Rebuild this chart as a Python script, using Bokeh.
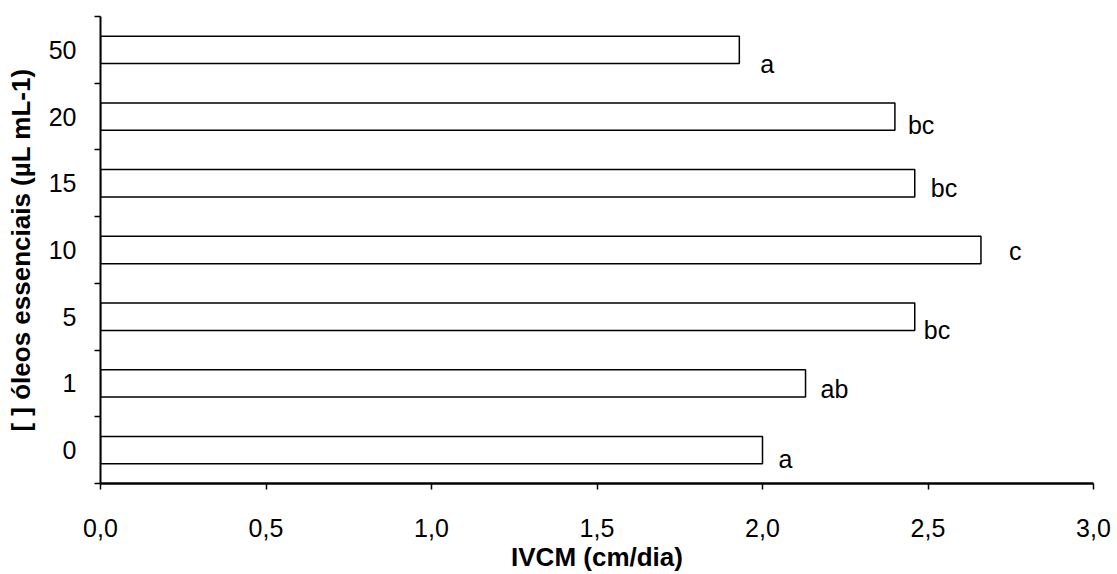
from bokeh.plotting import figure
from bokeh.models import ColumnDataSource, FixedTicker, Range1d, CustomJSTickFormatter, Title
from bokeh.core.properties import value
from bokeh.embed import file_html
from bokeh.resources import INLINE

categories = ["0", "1", "5", "10", "15", "20", "50"]
ivcm = [2.00, 2.13, 2.46, 2.66, 2.46, 2.40, 1.93]
letters = ["a", "ab", "bc", "c", "bc", "bc", "a"]
x_ticks = [0.0, 0.5, 1.0, 1.5, 2.0, 2.5, 3.0]

# pixel offsets of the letter annotations from the bar ends
letter_dx = [16, 15, 9, 28, 16, 13, 21]
letter_dy = [9, 6, 13, 1, 5, 8, 14]

FONT = "Liberation Sans"
pos = [i + 0.5 for i in range(len(categories))]

src = ColumnDataSource(dict(y=pos, right=ivcm, letter=letters, dx=letter_dx, dy=letter_dy))

p = figure(width=1117, height=574, output_backend="svg", toolbar_location=None,
           x_range=Range1d(x_ticks[0], x_ticks[-1]), y_range=Range1d(0, len(categories)),
           min_border_left=100, min_border_right=24, min_border_top=16, min_border_bottom=91)
p.background_fill_color = "white"
p.border_fill_color = "white"
p.outline_line_color = None
p.grid.visible = False

p.hbar(y="y", right="right", left=0, height=0.41, source=src,
       fill_color="white", line_color="black", line_width=1.5)
p.text(x="right", y="y", text="letter", x_offset="dx", y_offset="dy", source=src,
       text_font=value(FONT), text_font_size="25px", text_baseline="alphabetic",
       text_align="left", text_color="black")

xa = p.xaxis[0]
xa.ticker = FixedTicker(ticks=x_ticks)
xa.formatter = CustomJSTickFormatter(code="return tick.toFixed(1).replace('.', ',');")
xa.axis_line_width = 2.5
xa.axis_line_color = "black"
xa.major_tick_out = 6
xa.major_tick_in = 0
xa.major_tick_line_width = 1.5
xa.minor_tick_line_color = None
xa.major_label_standoff = 29
xa.major_label_text_font = FONT
xa.major_label_text_font_size = "25px"
xa.major_label_text_line_height = 1.0
xa.major_label_text_color = "black"

ya = p.yaxis[0]
ya.ticker = FixedTicker(ticks=pos, minor_ticks=list(range(len(categories) + 1)))
ya.formatter = CustomJSTickFormatter(args=dict(cats=categories),
                                     code="return cats[Math.round(tick - 0.5)];")
ya.axis_line_width = 2
ya.axis_line_color = "black"
ya.major_tick_line_color = None
ya.major_tick_out = 6
ya.major_tick_in = 0
ya.minor_tick_out = 6
ya.minor_tick_in = 0
ya.minor_tick_line_width = 1.5
ya.minor_tick_line_color = "black"
ya.major_label_standoff = 18
ya.major_label_text_font = FONT
ya.major_label_text_font_size = "25px"
ya.major_label_text_color = "black"
ya.axis_label = "[ ] óleos essenciais (µL mL-1)"
ya.axis_label_text_font = FONT
ya.axis_label_text_font_size = "26px"
ya.axis_label_text_font_style = "bold"
ya.axis_label_text_color = "black"
ya.axis_label_standoff = 10

xtitle = Title(text="IVCM (cm/dia)", align="center", offset=-24, standoff=1,
               text_font=FONT, text_font_size="26px", text_font_style="bold",
               text_line_height=1.0, text_color="black")
p.add_layout(xtitle, "below")

open("out.html", "w").write(file_html(p, INLINE))
